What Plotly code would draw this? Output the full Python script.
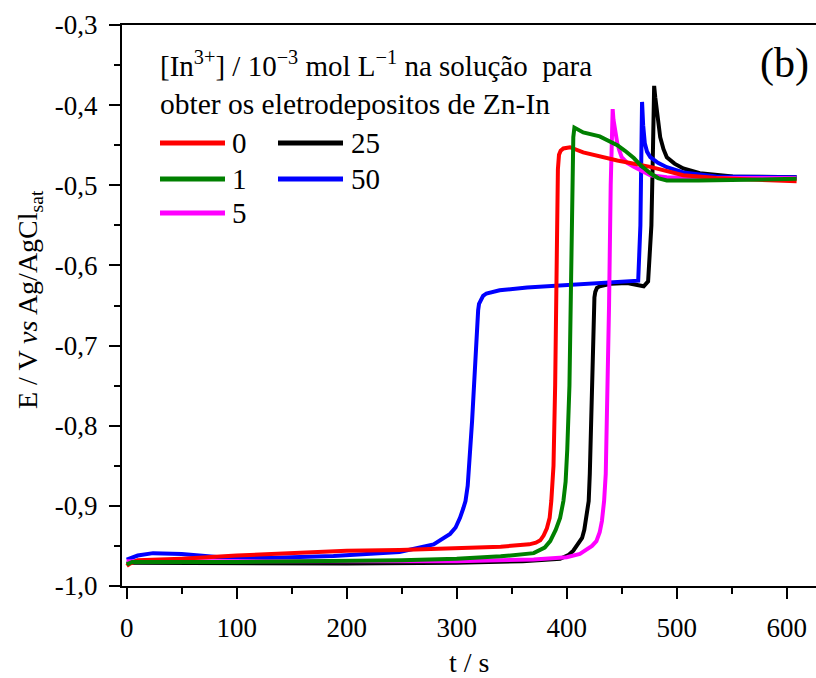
import plotly.graph_objects as go

# ---------------- data ----------------
series_names = ["0", "1", "5", "25", "50"]
series_colors = ["#ff0000", "#008000", "#ff00ff", "#000000", "#0000ff"]

t_0 = [0, 3, 10, 50, 100, 157, 200, 248, 300, 340, 366, 372, 376, 379, 382, 384.5, 386, 387.3, 388,
       389.5, 390.5, 391.5, 392, 393, 394.5, 397, 403, 415, 446, 476, 506, 536, 570, 609]
E_0 = [-0.975, -0.972, -0.968, -0.966, -0.962, -0.958, -0.956, -0.955, -0.953, -0.951, -0.948,
       -0.946, -0.943, -0.937, -0.928, -0.915, -0.894, -0.87, -0.85, -0.75, -0.6, -0.5, -0.48,
       -0.462, -0.457, -0.454, -0.4525, -0.459, -0.469, -0.477, -0.4875, -0.491, -0.493, -0.495]

t_1 = [0, 5, 100, 200, 250, 300, 340, 370, 380, 385, 388, 390, 394, 397, 399, 400.5, 402.5, 404,
       405, 406, 407, 415, 430, 446, 453, 461, 468, 476, 483, 491, 520, 560, 609]
E_1 = [-0.973, -0.970, -0.970, -0.969, -0.968, -0.966, -0.963, -0.959, -0.952, -0.944, -0.937,
       -0.93, -0.915, -0.894, -0.87, -0.83, -0.75, -0.6, -0.5, -0.44, -0.428, -0.434, -0.439,
       -0.45, -0.457, -0.466, -0.476, -0.485, -0.491, -0.494, -0.494, -0.493, -0.492]

t_5 = [0, 100, 200, 300, 370, 400, 412, 418, 423, 427, 430, 432, 434, 435.5, 436.5, 438.5, 440,
       441, 441.8, 442.5, 444, 446, 448, 450, 455, 461, 476, 491, 530, 609]
E_5 = [-0.969, -0.969, -0.969, -0.969, -0.967, -0.964, -0.96, -0.955, -0.95, -0.944, -0.933,
       -0.919, -0.894, -0.86, -0.8, -0.65, -0.5, -0.43, -0.405, -0.418, -0.435, -0.4475, -0.457,
       -0.465, -0.472, -0.477, -0.4875, -0.49, -0.491, -0.491]

t_25 = [0, 100, 200, 300, 360, 394, 402, 406, 410, 414, 416, 418, 420, 421, 422, 423.5, 424.5,
        425.2, 426, 427.5, 430, 440, 455, 465, 470, 474, 477, 478.5, 479.5, 480.5, 482, 485, 488,
        491, 498, 506, 521, 551, 609]
E_25 = [-0.971, -0.972, -0.972, -0.971, -0.969, -0.966, -0.961, -0.956, -0.949, -0.94, -0.93,
        -0.915, -0.894, -0.86, -0.8, -0.7, -0.65, -0.64, -0.633, -0.628, -0.626, -0.623, -0.622,
        -0.624, -0.626, -0.62, -0.55, -0.45, -0.376, -0.39, -0.406, -0.44, -0.455, -0.465,
        -0.473, -0.479, -0.485, -0.489, -0.49]

t_50 = [0, 10, 24, 50, 82, 127, 188, 248, 279, 294, 299, 303, 306, 308, 310, 311.5, 314, 317.5,
        318.5, 319.5, 320.3, 322, 324, 327, 333, 339, 364, 394, 430, 455, 465, 467, 468, 468.5,
        469.5, 471, 473, 476, 483, 491, 506, 536, 609]
E_50 = [-0.967, -0.962, -0.959, -0.96, -0.9638, -0.965, -0.9625, -0.9575, -0.948, -0.935, -0.927,
        -0.915, -0.903, -0.894, -0.875, -0.85, -0.794, -0.706, -0.675, -0.656, -0.648, -0.642,
        -0.638, -0.635, -0.633, -0.631, -0.6275, -0.625, -0.623, -0.621, -0.619, -0.55, -0.45,
        -0.396, -0.425, -0.4475, -0.458, -0.465, -0.472, -0.4775, -0.484, -0.489, -0.49]

x_ticks = [0, 100, 200, 300, 400, 500, 600]
y_ticks = [-1.0, -0.9, -0.8, -0.7, -0.6, -0.5, -0.4, -0.3]
y_tick_text = ["-1,0", "-0,9", "-0,8", "-0,7", "-0,6", "-0,5", "-0,4", "-0,3"]

header_1 = "[In<sup>3+</sup>] / 10<sup>\u22123</sup> mol L<sup>\u22121</sup> na solução &nbsp;para"
header_2 = "obter os eletrodepositos de Zn-In"
panel_label = "(b)"

t_data = {"0": t_0, "1": t_1, "5": t_5, "25": t_25, "50": t_50}
E_data = {"0": E_0, "1": E_1, "5": E_5, "25": E_25, "50": E_50}
color_of = dict(zip(series_names, series_colors))

# ---------------- layout geometry ----------------
W, H = 816, 678
ML, MR, MT, MB = 122, 0, 25, 92
PW, PH = W - ML - MR, H - MT - MB


def px(xp):
    return (xp - ML) / PW


def py(yp):
    return (H - MB - yp) / PH


FONT = "Liberation Serif"

fig = go.Figure()
draw_order = ["25", "50", "5", "0", "1"]
for name in draw_order:
    fig.add_trace(go.Scatter(
        x=t_data[name], y=E_data[name], mode="lines", name=name,
        line=dict(color=color_of[name], width=4),
        showlegend=False, hoverinfo="skip",
    ))

# manual legend (two columns, column-major like the reference)
legend_rows = [("0", 0, 0), ("1", 0, 1), ("5", 0, 2), ("25", 1, 0), ("50", 1, 1)]
col_x = [(160, 225, 230), (278, 343, 349)]
row_y = [143, 179, 213]
shapes = []
annotations = []
for name, c, r in legend_rows:
    x0, x1, xt = col_x[c]
    y = row_y[r]
    shapes.append(dict(type="line", xref="paper", yref="paper",
                       x0=px(x0), x1=px(x1), y0=py(y), y1=py(y),
                       line=dict(color=color_of[name], width=5)))
    annotations.append(dict(text=name, xref="paper", yref="paper", x=px(xt), y=py(y),
                            xanchor="left", yanchor="middle", showarrow=False,
                            font=dict(family=FONT, size=29, color="black")))

annotations.append(dict(text=header_1, xref="paper", yref="paper", x=px(158), y=py(64),
                        xanchor="left", yanchor="middle", showarrow=False,
                        font=dict(family=FONT, size=29, color="black")))
annotations.append(dict(text=header_2, xref="paper", yref="paper", x=px(158), y=py(104),
                        xanchor="left", yanchor="middle", showarrow=False,
                        font=dict(family=FONT, size=29.5, color="black")))
annotations.append(dict(text=panel_label, xref="paper", yref="paper", x=px(784), y=py(63),
                        xanchor="center", yanchor="middle", showarrow=False,
                        font=dict(family=FONT, size=42, color="black")))
annotations.append(dict(text="E / V <i>vs</i> Ag/AgCl<sub>sat</sub>", xref="paper", yref="paper",
                        x=px(29), y=py(300), xanchor="center", yanchor="middle",
                        textangle=-90, showarrow=False,
                        font=dict(family=FONT, size=28, color="black")))
annotations.append(dict(text="t / s", xref="paper", yref="paper", x=px(469), y=py(662),
                        xanchor="center", yanchor="middle", showarrow=False,
                        font=dict(family=FONT, size=28, color="black")))

fig.update_layout(
    width=W, height=H,
    margin=dict(l=ML, r=MR, t=MT, b=MB, pad=0),
    paper_bgcolor="white", plot_bgcolor="white",
    font=dict(family=FONT, size=27, color="black"),
    shapes=shapes, annotations=annotations,
    showlegend=False,
)
fig.update_xaxes(
    range=[(ML - 126.7) / 1.1, (W - 126.7) / 1.1],
    tickvals=x_ticks, ticktext=[str(v) for v in x_ticks],
    ticks="outside", ticklen=11, tickwidth=2, tickcolor="black",
    minor=dict(dtick=50, tick0=0, ticks="outside", ticklen=6, tickwidth=2, tickcolor="black"),
    showline=True, linecolor="black", linewidth=2, mirror=True,
    showgrid=False, zeroline=False,
    tickfont=dict(family=FONT, size=27, color="black"),
    ticklabelstandoff=6,
)
fig.update_yaxes(
    range=[-1.0, -0.3],
    tickvals=y_ticks, ticktext=y_tick_text,
    ticks="outside", ticklen=11, tickwidth=2, tickcolor="black",
    minor=dict(dtick=0.05, tick0=-1.0, ticks="outside", ticklen=6, tickwidth=2, tickcolor="black"),
    showline=True, linecolor="black", linewidth=2, mirror=False,
    showgrid=False, zeroline=False,
    tickfont=dict(family=FONT, size=27, color="black"),
    ticklabelstandoff=6,
)

fig.write_html("out.html")
